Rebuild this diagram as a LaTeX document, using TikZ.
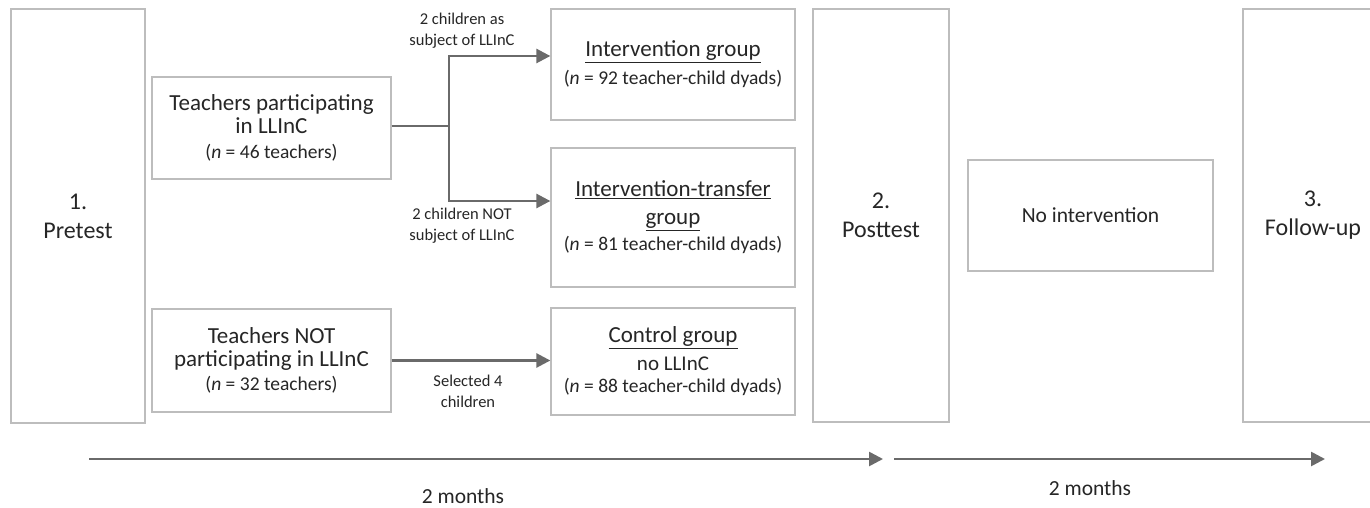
\documentclass[tikz,border=0pt]{standalone}
\usepackage{fontspec}
\setmainfont{Carlito}
\usetikzlibrary{calc}
\usetikzlibrary{arrows.meta}

\definecolor{boxgray}{HTML}{BDBDBD}
\definecolor{arrgray}{HTML}{6A6A6A}
\definecolor{txtgray}{HTML}{262626}

\newcommand{\hugetxt}{\fontsize{24}{29}\selectfont}
\newcommand{\bigtxt}{\fontsize{23}{23}\selectfont}
\newcommand{\midtxt}{\fontsize{19.5}{25}\selectfont}
\newcommand{\smalltxt}{\fontsize{16.5}{21}\selectfont}

\tikzset{
  stagebox/.style={draw=boxgray, line width=1.3pt, inner sep=0pt, align=center,
    text=txtgray, font=\hugetxt},
  groupbox/.style={stagebox, font=\bigtxt},
  steparrow/.style={draw=arrgray, line width=2.6pt,
    -{Triangle[length=14pt, width=14pt]}},
  forkline/.style={draw=arrgray, line width=2.6pt},
  note/.style={align=center, text=txtgray, font=\smalltxt, inner sep=0pt}
}

\begin{document}
\begin{tikzpicture}[x=1pt,y=-1pt]

\clip (0,0) rectangle (1370,508);
\fill[white] (0,0) rectangle (1370,508);

% measurement moments
\node[stagebox, minimum width=134pt, minimum height=414pt] (pre) at (78,216) {1.\\Pretest};
\node[stagebox, minimum width=136pt, minimum height=413pt] (post) at (881,215.5) {2.\\Posttest};
\node[stagebox, minimum width=140pt, minimum height=413pt] (follow) at (1313,215.5) {3.\\Follow-up};

% teachers
\node[groupbox, minimum width=239pt, minimum height=102pt] (tp) at (271.5,128)
  {Teachers participating\\in LLInC\\[2pt]{\midtxt(\textit{n} = 46 teachers)}};
\node[groupbox, minimum width=239pt, minimum height=103pt] (tn) at (271.5,360.5)
  {Teachers NOT\\participating in LLInC\\[1pt]{\midtxt(\textit{n} = 32 teachers)}};

% groups
\node[groupbox, minimum width=244pt, minimum height=111pt] (ig) at (673,64.5)
  {\underline{Intervention group}\\[5pt]{\midtxt(\textit{n} = 92 teacher-child dyads)}};
\node[groupbox, minimum width=244pt, minimum height=139pt] (it) at (673,217.5)
  {\underline{Intervention-transfer}\\[5pt]\underline{group}\\[3pt]{\midtxt(\textit{n} = 81 teacher-child dyads)}};
\node[groupbox, minimum width=244pt, minimum height=107pt] (cg) at (673,361.5)
  {\underline{Control group}\\[5pt]{\fontsize{21}{22}\selectfont no LLInC}\\[-1pt]{\midtxt(\textit{n} = 88 teacher-child dyads)}};
\node[groupbox, minimum width=245pt, minimum height=111pt, font=\fontsize{21.5}{25}\selectfont] (ni) at (1090.5,215.5)
  {No intervention};

% fork
\coordinate (fork) at (449,126);
\coordinate (forkup) at (449,56);
\coordinate (forkdown) at (449,201);
\draw[forkline] (tp.east |- fork) -- (fork);
\draw[steparrow] (fork) -- (forkup) -- (forkup -| ig.west);
\draw[steparrow] (fork) -- (forkdown) -- (forkdown -| it.west);
\draw[steparrow] (tn.east) -- (tn.east -| cg.west);

\node[note] (lblup) at (462,31) {2 children as\\subject of LLInC};
\node[note] (lbldown) at (462,226) {2 children NOT\\subject of LLInC};
\node[note] (lblsel) at (468,391) {Selected 4\\children};

% time line
\coordinate (t0) at (89,459);
\coordinate (t1) at (883,459);
\coordinate (t2) at (894,459);
\coordinate (t3) at (1325,459);
\draw[steparrow] (t0) -- (t1);
\draw[steparrow] (t2) -- (t3);
\node[note, font=\fontsize{21.5}{25}\selectfont] (mon1) at (463,496) {2 months};
\node[note, font=\fontsize{21.5}{25}\selectfont] (mon2) at (1090,488) {2 months};

\end{tikzpicture}
\end{document}
